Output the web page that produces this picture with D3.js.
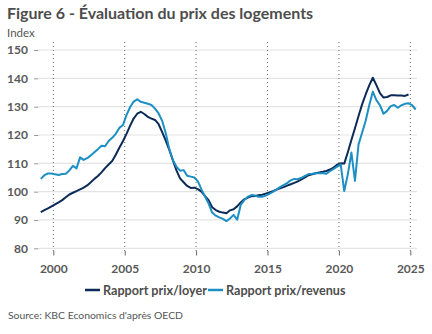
<!DOCTYPE html>
<html>
<head>
<meta charset="utf-8">
<script src="https://cdn.jsdelivr.net/npm/d3@7"></script>
<style>
  html, body { margin: 0; padding: 0; background: #fff; }
  svg { display: block; font-family: Lato, "Open Sans", sans-serif; }
</style>
</head>
<body>
<svg id="chart" width="432" height="334"></svg>
<script>
// Quarterly observations, first quarter = 1999 Q1
const startYear = 1999;

// Price-to-rent ratio (1999 Q1 – 2024 Q4)
const prixLoyer = [
  92.8, 93.5, 94.1, 94.8,
  95.5, 96.2, 97.0, 98.0,
  99.0, 99.6, 100.2, 100.8,
  101.4, 102.2, 103.3, 104.5,
  105.5, 106.8, 108.3, 109.6,
  110.8, 113.0, 115.5, 117.8,
  120.4, 123.2, 125.8, 127.5,
  128.2, 127.4, 126.4, 125.8,
  125.3, 123.8, 121.0, 118.0,
  114.7, 111.0, 107.5, 104.7,
  103.3, 102.0, 101.3, 101.4,
  100.9, 100.0, 98.4, 97.0,
  94.5, 93.5, 92.9, 92.6,
  92.4, 93.4, 93.8, 94.8,
  96.2, 97.3, 97.9, 98.4,
  98.5, 98.7, 98.9, 99.3,
  99.7, 100.2, 100.7, 101.2,
  101.6, 102.1, 102.6, 103.1,
  103.6, 104.3, 105.0, 105.8,
  106.1, 106.5, 106.8, 107.0,
  107.3, 107.8, 108.5, 109.5,
  110.0, 109.9, 113.9, 118.2,
  122.4, 126.7, 130.8, 134.3,
  137.5, 140.2, 137.6, 134.8,
  133.2, 133.4, 134.0, 134.0,
  133.9, 133.9, 133.8, 134.3
];

// Price-to-income ratio (1999 Q1 – 2025 Q2)
const prixRevenus = [
  104.5, 105.8, 106.4, 106.4,
  106.1, 105.9, 106.2, 106.3,
  107.5, 109.1, 108.2, 112.1,
  111.2, 111.8, 112.8, 113.9,
  115.0, 116.2, 116.0, 117.9,
  119.0, 120.4, 122.5, 123.5,
  127.0, 129.8, 131.8, 132.6,
  131.7, 131.4, 131.0, 130.6,
  129.3, 127.6, 125.0, 120.6,
  115.0, 111.2, 108.8, 107.4,
  107.6, 105.6, 105.3, 105.0,
  103.6, 100.8, 98.3, 95.8,
  92.6, 91.5, 90.9, 90.4,
  89.6, 90.5, 91.8, 90.1,
  95.3, 97.0, 98.2, 98.8,
  98.6, 98.2, 98.2, 98.6,
  99.2, 99.9, 100.7, 101.6,
  102.3, 103.0, 104.0, 104.5,
  104.4, 104.9, 105.6, 106.2,
  106.3, 106.5, 106.5, 106.5,
  106.3, 107.2, 108.0, 108.8,
  109.6, 100.2, 106.1, 113.8,
  103.8, 116.7, 120.8, 125.0,
  130.5, 135.3, 132.3, 130.5,
  127.5, 128.5, 130.2, 130.6,
  129.6, 130.5, 131.0, 131.2,
  130.5, 129.0
];

const yTicks = [80, 90, 100, 110, 120, 130, 140, 150];
const xTicks = [2000, 2005, 2010, 2015, 2020, 2025];

const seriesNames = ["Rapport prix/loyer", "Rapport prix/revenus"];
const seriesColors = ["#0c2a57", "#1c8fc3"];

const svg = d3.select("#chart");

// plot frame
const plot = { left: 39, right: 417, top: 42, bottom: 251 };

const x = d3.scaleLinear().domain([2000, 2025]).range([53.3, 410.3]);
const y = d3.scaleLinear().domain([80, 150]).range([248.3, 50]);

// quarter midpoints
const toPoints = vals => vals.map((v, i) => ({ t: startYear + Math.floor(i / 4) + ((i % 4) + 0.5) / 4, v }));

// title and unit
svg.append("text")
  .attr("x", 7).attr("y", 19)
  .attr("font-size", 16).attr("font-weight", 700).attr("fill", "#4d4d4d")
  .text("Figure 6 - Évaluation du prix des logements");
svg.append("text")
  .attr("x", 7).attr("y", 37)
  .attr("font-size", 11.5).attr("fill", "#555")
  .text("Index");

// horizontal grid
svg.append("g").selectAll("line").data(yTicks).join("line")
  .attr("x1", plot.left).attr("x2", plot.right)
  .attr("y1", d => y(d)).attr("y2", d => y(d))
  .attr("stroke", "#e4e4e4").attr("stroke-width", 1.2);

// y axis ticks and labels
const yAxis = d3.axisLeft(y).tickValues(yTicks).tickSize(4.5).tickPadding(6);
svg.append("g")
  .attr("transform", `translate(${plot.left - 0.5},0)`)
  .call(yAxis)
  .call(g => g.select(".domain").remove())
  .call(g => g.selectAll("line").attr("stroke", "#999"))
  .call(g => g.selectAll("text")
    .attr("font-family", "Lato, 'Open Sans', sans-serif")
    .attr("font-size", 12).attr("font-weight", 700).attr("fill", "#595959"));

// vertical dotted year lines
svg.append("g").selectAll("line").data(xTicks).join("line")
  .attr("x1", d => x(d)).attr("x2", d => x(d))
  .attr("y1", plot.top).attr("y2", plot.bottom)
  .attr("stroke", "#666").attr("stroke-width", 1)
  .attr("stroke-dasharray", "1,3");

// x axis ticks and labels
const xAxis = d3.axisBottom(x).tickValues(xTicks).tickFormat(d3.format("d")).tickSize(4.5).tickPadding(9);
svg.append("g")
  .attr("transform", `translate(0,${plot.bottom})`)
  .call(xAxis)
  .call(g => g.select(".domain").remove())
  .call(g => g.selectAll("line").attr("stroke", "#666"))
  .call(g => g.selectAll("text")
    .attr("font-family", "Lato, 'Open Sans', sans-serif")
    .attr("font-size", 12).attr("font-weight", 700).attr("fill", "#595959"));

// series lines
const line = d3.line().x(d => x(d.t)).y(d => y(d.v)).curve(d3.curveLinear);
[prixLoyer, prixRevenus].forEach((vals, i) => {
  svg.append("path")
    .datum(toPoints(vals))
    .attr("d", line)
    .attr("fill", "none")
    .attr("stroke", seriesColors[i])
    .attr("stroke-width", 2)
    .attr("stroke-linejoin", "round");
});

// legend
const legend = svg.append("g").attr("transform", "translate(0,290)");
const legendX = [85, 208];
seriesNames.forEach((name, i) => {
  const g = legend.append("g").attr("transform", `translate(${legendX[i]},0)`);
  g.append("line").attr("x1", 0).attr("x2", 15).attr("y1", 0).attr("y2", 0)
    .attr("stroke", seriesColors[i]).attr("stroke-width", 2.5);
  g.append("text").attr("x", 18).attr("y", 4.5)
    .attr("font-size", 12.6).attr("font-weight", 700).attr("fill", "#4d4d4d")
    .text(name);
});

// source note
svg.append("text")
  .attr("x", 8).attr("y", 319)
  .attr("font-size", 10.4).attr("fill", "#555")
  .text("Source: KBC Economics d'après OECD");
</script>
</body>
</html>
